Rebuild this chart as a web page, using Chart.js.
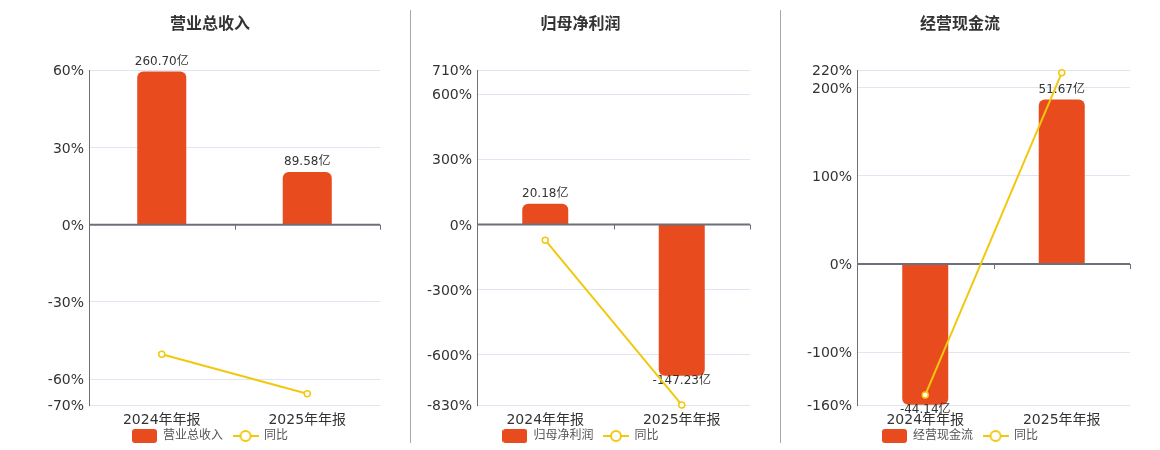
<!DOCTYPE html>
<html lang="zh-CN">
<head>
<meta charset="utf-8">
<title>营业总收入 / 归母净利润 / 经营现金流</title>
<script src="https://cdn.jsdelivr.net/npm/chart.js@4.4.1/dist/chart.umd.min.js"></script>
<style>
  html, body { margin: 0; padding: 0; background: #fff; }
  #wrap { position: relative; width: 1160px; height: 450px; overflow: hidden; }
  .panel { position: absolute; top: 0; height: 450px; }
  .sep { position: absolute; top: 10px; width: 1px; height: 433px; background: #a8a8a8; }
</style>
</head>
<body>
<div id="wrap">
  <div class="panel" style="left:0;width:410px"><canvas id="c-revenue"></canvas></div>
  <div class="sep" style="left:410px"></div>
  <div class="panel" style="left:411px;width:369px"><canvas id="c-profit"></canvas></div>
  <div class="sep" style="left:780px"></div>
  <div class="panel" style="left:781px;width:379px"><canvas id="c-cash"></canvas></div>
</div>
<script>
// ─── Données ────────────────────────────────────────────────────────────────
const categories = ['2024年年报', '2025年年报'];

const revenue      = [260.70, 89.58];      // 亿
const revenueYoY   = [-50.3, -65.64];      // %
const revenueTicks = [-70, -60, -30, 0, 30, 60];

const netProfit      = [20.18, -147.23];
const netProfitYoY   = [-71.9, -829.6];
const netProfitTicks = [-830, -600, -300, 0, 300, 600, 710];

const cashFlow      = [-44.14, 51.67];
const cashFlowYoY   = [-148.6, 217.06];
const cashFlowTicks = [-160, -100, 0, 100, 200, 220];

const BAR_COLOR  = '#e84c1e';
const LINE_COLOR = '#f2c80f';
const FONT = '"DejaVu Sans", "Noto Sans CJK SC", sans-serif';

Chart.defaults.font.family = FONT;
Chart.defaults.color = '#333';

// barRange : axe masque des barres, aligne sur le zero de l'axe des %
const panels = [
  { id: 'c-revenue', title: '营业总收入', bars: revenue,   yoy: revenueYoY,   ticks: revenueTicks,
    barRange: [-306.7, 262.9], padLeft: 40, axisWidth: 49 },
  { id: 'c-profit',  title: '归母净利润', bars: netProfit, yoy: netProfitYoY, ticks: netProfitTicks,
    barRange: [-175.8, 150.4], padLeft: 0,  axisWidth: 66 },
  { id: 'c-cash',    title: '经营现金流', bars: cashFlow,  yoy: cashFlowYoY,  ticks: cashFlowTicks,
    barRange: [-44.25, 60.85], padLeft: 9,  axisWidth: 67 },
];

// ─── Symboles de legende ────────────────────────────────────────────────────
function barSwatch() {
  const c = document.createElement('canvas');
  c.width = 25; c.height = 14;
  const g = c.getContext('2d');
  g.fillStyle = BAR_COLOR;
  g.beginPath();
  g.roundRect(0, 0, 25, 14, 3);
  g.fill();
  return c;
}

function lineSwatch() {
  const c = document.createElement('canvas');
  c.width = 26; c.height = 14;
  const g = c.getContext('2d');
  g.strokeStyle = LINE_COLOR;
  g.lineWidth = 2;
  g.beginPath(); g.moveTo(0, 7); g.lineTo(26, 7); g.stroke();
  g.fillStyle = '#fff';
  g.beginPath(); g.arc(13, 7, 5, 0, Math.PI * 2); g.fill(); g.stroke();
  return c;
}

const SWATCHES = [barSwatch(), lineSwatch()];

// Ligne du zero, graduations des categories et etiquettes des barres
const zeroAxisPlugin = {
  id: 'zeroAxis',
  afterLayout(chart) {
    // la legende chevauche la zone des libelles de l'axe x
    chart.legend.top -= 11;
  },
  afterDatasetDraw(chart, args) {
    if (args.index !== 0) return;
    const { ctx, chartArea, scales } = chart;
    const y0 = scales.y.getPixelForValue(0);
    const n = chart.data.labels.length;
    const step = (chartArea.right - chartArea.left) / n;
    ctx.save();
    ctx.strokeStyle = '#6e7079';
    ctx.lineWidth = 2;
    ctx.beginPath();
    ctx.moveTo(chartArea.left, y0);
    ctx.lineTo(chartArea.right, y0);
    ctx.stroke();
    ctx.lineWidth = 1;
    for (let i = 0; i <= n; i++) {
      const x = Math.round(chartArea.left + i * step) + 0.5;
      ctx.beginPath();
      ctx.moveTo(x, y0);
      ctx.lineTo(x, y0 + 5);
      ctx.stroke();
    }
    const meta = chart.getDatasetMeta(0);
    const values = chart.data.datasets[0].data;
    ctx.font = '12px ' + FONT;
    ctx.fillStyle = '#333';
    ctx.textAlign = 'center';
    meta.data.forEach((bar, i) => {
      const v = values[i];
      const txt = v.toFixed(2) + '亿';
      if (v >= 0) {
        ctx.textBaseline = 'bottom';
        ctx.fillText(txt, bar.x, bar.y - 4);
      } else {
        ctx.textBaseline = 'top';
        ctx.fillText(txt, bar.x, bar.y - 1);
      }
    });
    ctx.restore();
  },
};

function buildChart(p) {
  return new Chart(document.getElementById(p.id), {
    data: {
      labels: categories,
      datasets: [
        {
          type: 'bar',
          label: p.title,
          data: p.bars,
          yAxisID: 'yb',
          backgroundColor: BAR_COLOR,
          borderRadius: 6,
          borderSkipped: 'start',
          barPercentage: 0.337,
          categoryPercentage: 1,
          order: 1,
        },
        {
          type: 'line',
          label: '同比',
          data: p.yoy,
          yAxisID: 'y',
          borderColor: LINE_COLOR,
          borderWidth: 2,
          pointRadius: 3,
          pointBackgroundColor: '#fff',
          pointBorderColor: LINE_COLOR,
          pointBorderWidth: 1.5,
          tension: 0,
          clip: false,
          order: 0,
        },
      ],
    },
    options: {
      responsive: true,
      maintainAspectRatio: false,
      animation: false,
      layout: { padding: { left: p.padLeft, right: 30, top: 0, bottom: 0 } },
      plugins: {
        title: {
          display: true,
          text: p.title,
          color: '#333',
          font: { size: 16, weight: 'bold' },
          padding: { top: 15, bottom: 36 },
        },
        legend: {
          position: 'bottom',
          maxHeight: 19,
          labels: {
            usePointStyle: true,
            pointStyleWidth: 25,
            padding: 10,
            color: '#555',
            font: { size: 12 },
            sort: (a, b) => a.datasetIndex - b.datasetIndex,
            generateLabels: chart => {
              const items = Chart.defaults.plugins.legend.labels.generateLabels(chart);
              items.forEach(it => { it.pointStyle = SWATCHES[it.datasetIndex]; });
              return items;
            },
          },
        },
        tooltip: { enabled: false },
      },
      scales: {
        x: {
          grid: { display: false, drawTicks: false },
          border: { display: false },
          ticks: { color: '#333', font: { size: 14 }, padding: 7 },
          afterFit: s => { s.height = 26; },
        },
        y: {
          position: 'left',
          min: p.ticks[0],
          max: p.ticks[p.ticks.length - 1],
          afterBuildTicks: s => { s.ticks = p.ticks.map(v => ({ value: v })); },
          ticks: { autoSkip: false, color: '#333', font: { size: 14 }, padding: 5, labelOffset: 1.5,
                   callback: v => v + '%' },
          grid: { color: '#e0e6f1', drawTicks: false },
          border: { display: true, color: '#6e7079', width: 1 },
          afterFit: s => { s.width = p.axisWidth; },
        },
        yb: {
          display: false,
          min: p.barRange[0],
          max: p.barRange[1],
        },
      },
    },
    plugins: [zeroAxisPlugin],
  });
}

panels.forEach(buildChart);
</script>
</body>
</html>
